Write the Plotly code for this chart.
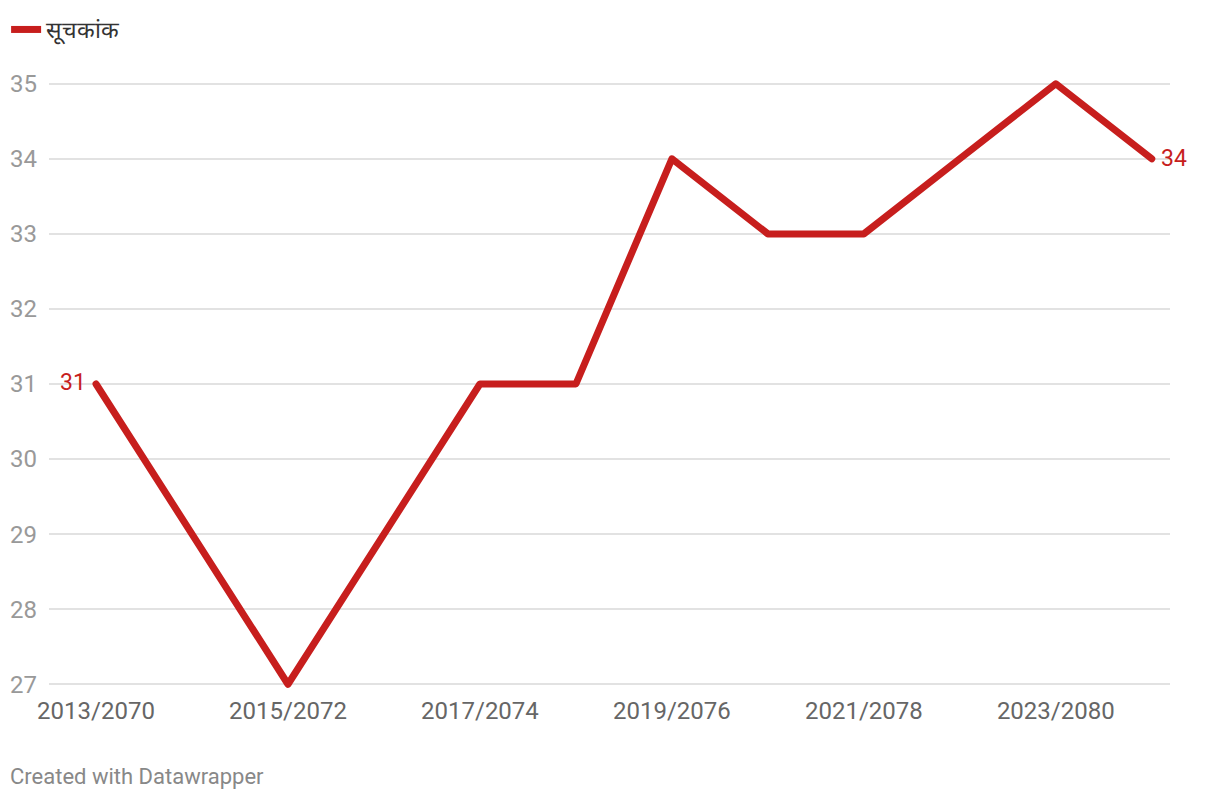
import plotly.graph_objects as go

years = [2013, 2014, 2015, 2016, 2017, 2018, 2019, 2020, 2021, 2022, 2023, 2024]
values = [31, 29, 27, 29, 31, 31, 34, 33, 33, 34, 35, 34]
tick_years = [2013, 2015, 2017, 2019, 2021, 2023]
tick_labels = ["2013/2070", "2015/2072", "2017/2074", "2019/2076", "2021/2078", "2023/2080"]
series_name = "सूचकांक"
red = "#c71e1d"

fig = go.Figure()
fig.add_trace(go.Scatter(
    x=years, y=values, mode="lines", name=series_name,
    line=dict(color=red, width=7),
    hoverinfo="skip", cliponaxis=False,
))

fig.add_annotation(x=years[0], y=values[0], xref="x", yref="y", text=str(values[0]),
                   showarrow=False, xanchor="right", xshift=-8, yshift=2,
                   font=dict(family="Roboto", size=23, color=red))
fig.add_annotation(x=years[-1], y=values[-1], xref="x", yref="y", text=str(values[-1]),
                   showarrow=False, xanchor="left", xshift=7,
                   font=dict(family="Roboto", size=23, color=red))

# plot area spans y=80..688 px; footer centred at y=776 px
fig.add_annotation(text="Created with Datawrapper", showarrow=False,
                   xref="paper", yref="paper", x=-41/1121, y=-(776-688)/608,
                   xanchor="left", yanchor="middle",
                   font=dict(family="Roboto", size=22, color="#888"))

fig.update_layout(
    width=1220, height=800,
    margin=dict(l=49, r=50, t=80, b=112),
    paper_bgcolor="white", plot_bgcolor="white",
    font=dict(family="Roboto", size=20, color="#333"),
    showlegend=True,
    legend=dict(xref="container", yref="container", x=0.005, y=0.99, xanchor="left", yanchor="top",
                orientation="h", font=dict(family="Roboto", size=23, color="#333"),
                bgcolor="rgba(0,0,0,0)", itemwidth=30, tracegroupgap=0),
    xaxis=dict(range=[2012.51, 2024.19], tickvals=tick_years, ticktext=tick_labels,
               showgrid=False, zeroline=False, showline=False, ticks="",
               tickfont=dict(family="Roboto", size=24, color="#666"),
               ticklabelstandoff=6, fixedrange=True, automargin=False),
    yaxis=dict(range=[26.95, 35.05], tickvals=[27, 28, 29, 30, 31, 32, 33, 34, 35],
               showgrid=True, gridcolor="#e2e2e2", gridwidth=1.5,
               zeroline=False, showline=False, ticks="",
               tickfont=dict(family="Roboto", size=24, color="#999"),
               ticklabelstandoff=11, fixedrange=True, automargin=False),
)

post = (
    "document.body.style.margin='0';"
    "document.querySelectorAll('.scatterlayer .js-line').forEach(function(p){"
    "p.setAttribute('stroke-linejoin','round');p.setAttribute('stroke-linecap','round');"
    "p.style.strokeLinejoin='round';p.style.strokeLinecap='round';});"
)
fig.write_html("out.html", config={"displayModeBar": False}, post_script=post)
